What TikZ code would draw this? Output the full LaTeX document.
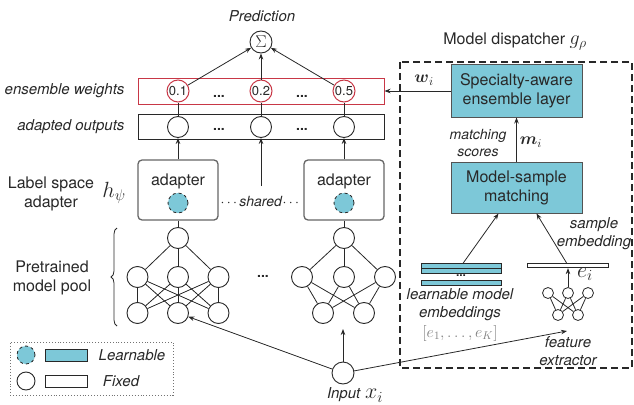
\RequirePackage{fix-cm}
\documentclass[tikz,border=0pt]{standalone}
\usepackage{amsmath}
\usepackage{fontspec}
\setmainfont{TeX Gyre Heros}
\usetikzlibrary{arrows.meta,decorations.pathreplacing}
\definecolor{lblue}{RGB}{125,200,216}
\definecolor{wred}{RGB}{200,55,70}
\definecolor{ink}{RGB}{40,40,40}
\begin{document}
\begin{tikzpicture}[x=1pt,y=-1pt,
  every node/.style={text=ink},
  lbl/.style={font=\fontsize{15}{18}\selectfont\itshape,align=center},
  txt/.style={font=\fontsize{16}{19}\selectfont,align=center},
  neuron/.style={circle,draw=ink,line width=0.9pt,minimum size=21pt,inner sep=0pt,fill=white},
  tinyn/.style={circle,draw=ink,line width=0.8pt,minimum size=11pt,inner sep=0pt,fill=white},
  wnode/.style={circle,draw=wred,line width=1pt,minimum size=22pt,inner sep=0pt,font=\fontsize{13}{15}\selectfont},
  lnode/.style={circle,draw=ink,dashed,fill=lblue,line width=0.8pt,minimum size=20pt,inner sep=0pt},
  arr/.style={-{Stealth[length=6pt,width=4.5pt]},draw=ink,line width=0.8pt},
  ln/.style={draw=ink,line width=0.8pt},
  bluebox/.style={draw=ink!80,fill=lblue,line width=1pt,align=center,font=\fontsize{16}{19}\selectfont,minimum width=131pt,minimum height=52pt,inner sep=0pt},
  bar/.style={draw=ink,line width=0.8pt,minimum width=80pt,minimum height=4.5pt,inner sep=0pt},
  dotsn/.style={font=\fontsize{14}{16}\selectfont\bfseries,inner sep=0pt},
]
\useasboundingbox (0,0) rectangle (634,404);

% ---------------- left: ensemble ----------------
\node[lbl] (pred) at (262,16) {Prediction};
\node[circle,draw=ink,line width=0.9pt,minimum size=22pt,inner sep=0pt,font=\fontsize{17}{19}\selectfont] (sig) at (261,42) {$\Sigma$};

\node[draw=wred,line width=1pt,minimum width=246pt,minimum height=26pt,inner sep=0pt] (ew) at (261,91) {};
\node[draw=ink,line width=1pt,minimum width=246pt,minimum height=25pt,inner sep=0pt] (ao) at (261,126.5) {};
\node[lbl,anchor=east] (ewl) at (128,91) {ensemble weights};
\node[lbl,anchor=east] (aol) at (128,127) {adapted outputs};

\node[wnode] (w1) at (178,91) {0.1};
\node[wnode] (w2) at (261,91) {0.2};
\node[wnode] (w3) at (344,91) {0.5};
\node[dotsn] (d1) at (219,96) {...};
\node[dotsn] (d2) at (302,96) {...};

\node[neuron] (a1) at (178,127) {};
\node[neuron] (a2) at (261,127) {};
\node[neuron] (a3) at (344,127) {};
\node[dotsn] (d3) at (219,129) {...};
\node[dotsn] (d4) at (302,129) {...};

\draw[ln] (w1) -- (a1);
\draw[ln] (w2) -- (a2);
\draw[ln] (w3) -- (a3);
\draw[arr] (w1) -- (sig);
\draw[arr] (w2) -- (sig);
\draw[arr] (w3) -- (sig);

% adapters
\node[draw=black!60,rounded corners=4pt,line width=1.3pt,minimum width=80pt,minimum height=60pt,inner sep=0pt] (adL) at (178,190) {};
\node[draw=black!60,rounded corners=4pt,line width=1.3pt,minimum width=80pt,minimum height=60pt,inner sep=0pt] (adR) at (344,190) {};
\node[txt] (adLt) at (178,181) {adapter};
\node[txt] (adRt) at (344,181) {adapter};
\node[lnode] (lc1) at (178,203) {};
\node[lnode] (lc2) at (344,203) {};
\node[font=\fontsize{14}{16}\selectfont,inner sep=0pt] (sh) at (261,202) {$\cdots$\textit{shared}$\cdots$};
\coordinate (shtop) at (261,186);
\draw[arr] (adL.north) -- (a1);
\draw[arr] (adR.north) -- (a3);
\draw[arr] (shtop) -- (a2);

\node[txt] (lsa) at (51,194) {Label space\\adapter};
\node[font=\fontsize{22}{24}\selectfont] (hpsi) at (114,193) {$h_\psi$};

% left network
\node[neuron] (L0) at (178,238) {};
\node[neuron] (L1) at (137.5,277) {};
\node[neuron] (L2) at (178,277) {};
\node[neuron] (L3) at (218.5,277) {};
\node[neuron] (L4) at (137.5,313) {};
\node[neuron] (L5) at (178,313) {};
\node[neuron] (L6) at (218.5,313) {};
\draw[ln] (adL.south) -- (L0);
\foreach \m in {L1,L2,L3}{
  \draw[ln] (L0) -- (\m);
  \foreach \b in {L4,L5,L6}{\draw[ln] (\m) -- (\b);}
}
% right network
\node[neuron] (R0) at (344,238) {};
\node[neuron] (R1) at (302,277) {};
\node[neuron] (R2) at (344,277) {};
\node[neuron] (R3) at (385,277) {};
\node[neuron] (R4) at (323,313) {};
\node[neuron] (R5) at (364,313) {};
\draw[ln] (adR.south) -- (R0);
\foreach \m in {R1,R2,R3}{
  \draw[ln] (R0) -- (\m);
  \foreach \b in {R4,R5}{\draw[ln] (\m) -- (\b);}
}
\node[dotsn] (d5) at (263,276) {...};

\draw[decorate,decoration={brace,amplitude=6pt},line width=0.8pt,draw=ink] (117,326) -- (117,228);
\node[txt] (pmp) at (52,278) {Pretrained\\model pool};

% legend
\node[draw=black!55,dotted,line width=0.9pt,minimum width=163pt,minimum height=53pt,inner sep=0pt] (leg) at (91.5,368.5) {};
\node[lnode,minimum size=18pt] (lg1) at (26,355) {};
\node[draw=ink,fill=lblue,line width=0.8pt,minimum width=42pt,minimum height=12pt,inner sep=0pt] (lg2) at (66,355) {};
\node[lbl] (lg3) at (132,355) {Learnable};
\node[neuron,minimum size=18pt] (lg4) at (26,381) {};
\node[draw=ink,line width=0.8pt,minimum width=42pt,minimum height=12pt,inner sep=0pt] (lg5) at (66,381) {};
\node[lbl] (lg6) at (121,381) {Fixed};

% input
\node[neuron,minimum size=22pt] (in) at (343,373) {};
\node[font=\fontsize{15}{18}\selectfont,inner sep=0pt] (inl) at (355,395) {\textit{Input} {\fontsize{22}{24}\selectfont$x_i$}};
\coordinate (rtip) at (343,329);
\coordinate (ftip) at (567,331);
\draw[arr] (in) -- (L5);
\draw[arr] (in) -- (rtip);
\draw[arr] (in) -- (ftip);

% ---------------- right: dispatcher ----------------
\node[txt] (mdl) at (515,42) {Model dispatcher {\fontsize{20}{22}\selectfont$g_\rho$}};
\draw[ink,line width=1.6pt,dash pattern=on 7pt off 4pt] (400,62) rectangle (632,368);

\node[bluebox] (sae) at (516.5,91) {Specialty-aware\\ensemble layer};
\node[bluebox,minimum height=51pt] (msm) at (516.5,187.5) {Model-sample\\matching};
\draw[arr] (sae.west) -- (ew.east);
\node[font=\fontsize{17}{20}\selectfont] (wi) at (424,80) {$\boldsymbol{w}_i$};
\draw[arr] (msm.north) -- (sae.south);
\node[font=\fontsize{17}{20}\selectfont] (mi) at (531,142) {$\boldsymbol{m}_i$};
\node[lbl,font=\fontsize{14}{17}\selectfont\itshape] (ms) at (478,143) {matching\\scores};

% embeddings
\node[bar,fill=lblue] (lb1) at (461,266) {};
\node[bar,fill=lblue] (lb2) at (461,271) {};
\node[dotsn,font=\fontsize{12}{14}\selectfont\bfseries] (d6) at (461,276) {...};
\node[bar,fill=lblue] (lb3) at (461,283) {};
\node[bar,fill=white,minimum width=81pt] (sb) at (567.5,265.5) {};
\draw[arr] ([xshift=2pt]lb1.north) -- ([xshift=-18pt]msm.south);
\draw[arr] ([xshift=-1pt]sb.north) -- ([xshift=20pt]msm.south);
\node[lbl] (se) at (594,234) {sample\\embedding};
\node[lbl] (lme) at (460,305) {learnable model\\embeddings};
\node[font=\fontsize{16}{18}\selectfont,text=black!50] (ek) at (460,333) {$[e_1,\dots,e_K]$};

% feature extractor
\node[tinyn] (f1) at (548,293) {};
\node[tinyn] (f2) at (568,293) {};
\node[tinyn] (f3) at (588,293) {};
\node[tinyn] (f4) at (558,315) {};
\node[tinyn] (f5) at (578,315) {};
\foreach \a in {f1,f2,f3}{\foreach \b in {f4,f5}{\draw[ln] (\a) -- (\b);}}
\draw[arr] (f2) -- (f2 |- sb.south);
\node[font=\fontsize{22}{24}\selectfont] (ei) at (585,274) {$e_i$};
\node[lbl] (fe) at (568,351) {feature\\extractor};
\end{tikzpicture}
\end{document}
